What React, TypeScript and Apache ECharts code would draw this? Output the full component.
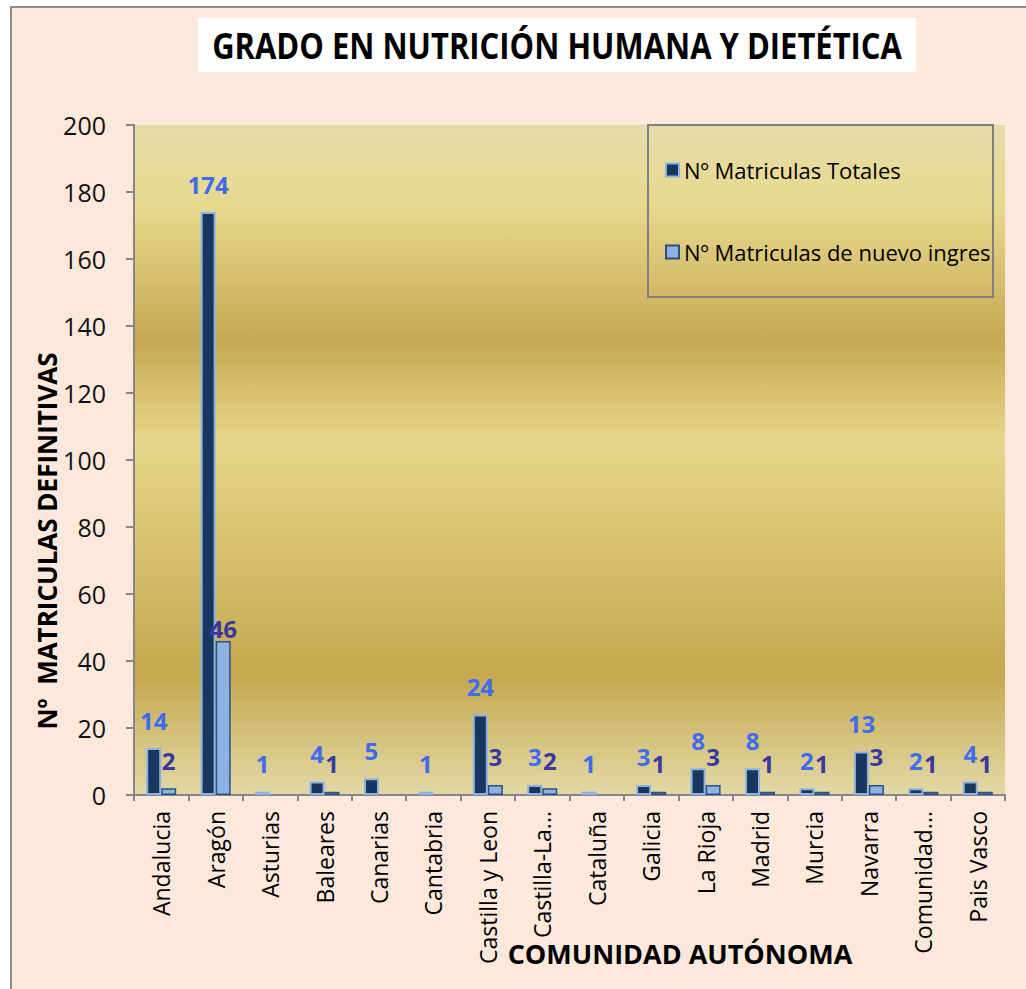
import React, { useEffect, useRef } from "react";
import * as echarts from "echarts";

const categories = [
  "Andalucia", "Aragón", "Asturias", "Baleares", "Canarias", "Cantabria",
  "Castilla y Leon", "Castilla-La...", "Cataluña", "Galicia", "La Rioja",
  "Madrid", "Murcia", "Navarra", "Comunidad...", "Pais Vasco",
];
const totales = [14, 174, 1, 4, 5, 1, 24, 3, 1, 3, 8, 8, 2, 13, 2, 4];
const nuevoIngreso = [2, 46, null, 1, null, null, 3, 2, null, 1, 3, 1, 1, 3, 1, 1];
const yTicks = { min: 0, max: 200, interval: 20 };

const seriesNames = ["Nº Matriculas Totales", "Nº Matriculas de nuevo ingres"];
const title = "GRADO EN NUTRICIÓN HUMANA Y DIETÉTICA";
const yName = "Nº  MATRICULAS DEFINITIVAS";
const xName = "COMUNIDAD AUTÓNOMA";

const FONT = "'Open Sans', 'Noto Sans', sans-serif";

export default function App() {
  const ref = useRef<HTMLDivElement>(null);
  useEffect(() => {
    if (!ref.current) return;
    const chart = echarts.init(ref.current, null, { renderer: "svg" });
    const gridLeft = 134, gridTop = 125, gridW = 871, gridH = 670;
    const gold = new echarts.graphic.LinearGradient(0, 0, 0, 1, [
      { offset: 0, color: "#E5DDAA" },
      { offset: 0.12, color: "#E8D98E" },
      { offset: 0.32, color: "#C6A952" },
      { offset: 0.47, color: "#E7D68A" },
      { offset: 0.82, color: "#C5A84F" },
      { offset: 1, color: "#E3D9A6" },
    ]);
    const labelBase = {
      show: true,
      position: "top",
      distance: 16,
      fontFamily: FONT,
      fontWeight: "bold",
      fontSize: 24,
    };
    chart.setOption({
      animation: false,
      backgroundColor: "#ffffff",
      grid: {
        left: gridLeft, top: gridTop, width: gridW, height: gridH,
        show: true, backgroundColor: gold, borderWidth: 0,
      },
      legend: {
        orient: "vertical",
        left: 660,
        top: 154,
        itemWidth: 13,
        itemHeight: 13,
        itemGap: 60,
        icon: "rect",
        textStyle: { fontFamily: FONT, fontSize: 22, color: "#000" },
        data: seriesNames,
      },
      xAxis: {
        type: "category",
        data: categories,
        boundaryGap: true,
        axisLine: { lineStyle: { color: "#868686", width: 2 } },
        axisTick: { show: true, length: 6, lineStyle: { color: "#868686", width: 2 } },
        axisLabel: {
          rotate: 90, interval: 0, margin: 16,
          fontFamily: FONT, fontSize: 23, color: "#000",
        },
      },
      yAxis: {
        type: "value",
        min: yTicks.min, max: yTicks.max, interval: yTicks.interval,
        axisLine: { show: true, lineStyle: { color: "#868686", width: 2 } },
        axisTick: { show: true, length: 8, lineStyle: { color: "#868686", width: 2 } },
        splitLine: { show: false },
        axisLabel: { margin: 28, fontFamily: FONT, fontSize: 25, color: "#111" },
      },
      series: [
        {
          name: seriesNames[0],
          type: "bar",
          data: totales,
          barWidth: 15,
          barGap: "0%",
          itemStyle: { color: "#17375E", borderColor: "#8DB3E2", borderWidth: 2 },
          label: { ...labelBase, color: "#3D6CF0" },
        },
        {
          name: seriesNames[1],
          type: "bar",
          data: nuevoIngreso.map((v, i) =>
            i === 1 ? { value: v, label: { distance: 0 } } : v
          ),
          barWidth: 15,
          itemStyle: { color: "#8DB3E2", borderColor: "#2C4F80", borderWidth: 1.5 },
          label: { ...labelBase, color: "#3A3A9E" },
        },
      ],
      graphic: [
        {
          type: "rect", silent: true, z: -10,
          shape: { x: 11, y: 7, width: 1030, height: 1000 },
          style: { fill: "#FDE9DB", stroke: "#8C8C8C", lineWidth: 2 },
        },
        {
          type: "rect", silent: true, z: -5,
          shape: { x: 198, y: 18, width: 718, height: 54 },
          style: { fill: "#ffffff" },
        },
        {
          type: "text", silent: true,
          x: 557, y: 45, scaleX: 0.86,
          style: {
            text: title, fill: "#000", font: `bold 36px ${FONT}`,
            align: "center", verticalAlign: "middle",
          },
        },
        {
          type: "rect", silent: true, z: 5,
          shape: { x: 648, y: 125, width: 345, height: 172 },
          style: { fill: "none", stroke: "#808080", lineWidth: 2 },
        },
        {
          type: "text", silent: true,
          x: 47, y: 541, rotation: Math.PI / 2,
          style: {
            text: yName, fill: "#000", font: `bold 26px ${FONT}`,
            align: "center", verticalAlign: "middle",
          },
        },
        {
          type: "text", silent: true,
          x: 680, y: 953,
          style: {
            text: xName, fill: "#000", font: `bold 27px ${FONT}`,
            align: "center", verticalAlign: "middle",
          },
        },
      ],
    });
    return () => chart.dispose();
  }, []);
  return (
    <div
      ref={ref}
      style={{ position: "absolute", left: 0, top: 0, width: 1026, height: 989 }}
    />
  );
}
